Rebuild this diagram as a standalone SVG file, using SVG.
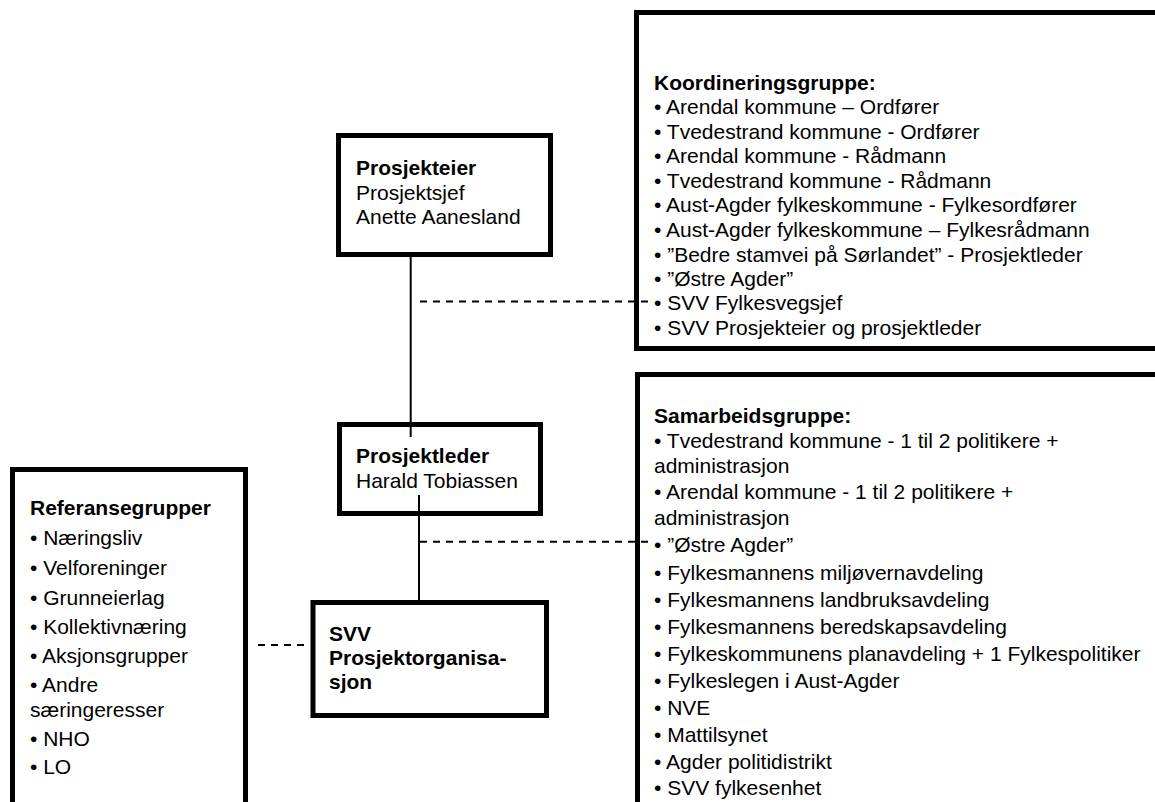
<svg xmlns="http://www.w3.org/2000/svg" width="1155" height="802" viewBox="0 0 1155 802">
<style>
.box{fill:none;stroke:#000;stroke-width:5}
text{font-family:"Liberation Sans",Arial,sans-serif;font-size:21px;fill:#000}
.b{font-weight:bold}
.solid{stroke:#000;stroke-width:2;fill:none}
.dash{stroke:#000;stroke-width:2;fill:none;stroke-dasharray:7 6}
</style>
<rect width="1155" height="802" fill="#fff"/>
<g id="koordineringsgruppe">
<rect class="box" x="636.5" y="12.5" width="600" height="336"/>
<text x="654" y="90" class="b">Koordineringsgruppe:</text>
<text x="654" y="114.3">• Arendal kommune – Ordfører</text>
<text x="654" y="138.5">• Tvedestrand kommune - Ordfører</text>
<text x="654" y="163.2">• Arendal kommune - Rådmann</text>
<text x="654" y="188">• Tvedestrand kommune - Rådmann</text>
<text x="654" y="212.3">• Aust-Agder fylkeskommune - Fylkesordfører</text>
<text x="654" y="237">• Aust-Agder fylkeskommune – Fylkesrådmann</text>
<text x="654" y="261.7">• ”Bedre stamvei på Sørlandet” - Prosjektleder</text>
<text x="654" y="286">• ”Østre Agder”</text>
<text x="654" y="310.3">• SVV Fylkesvegsjef</text>
<text x="654" y="334.5">• SVV Prosjekteier og prosjektleder</text>
</g>
<g id="samarbeidsgruppe">
<rect class="box" x="637.5" y="374.5" width="600" height="500"/>
<text x="654" y="423" class="b">Samarbeidsgruppe:</text>
<text x="654" y="448.3">• Tvedestrand kommune - 1 til 2 politikere +</text>
<text x="654" y="473.3">administrasjon</text>
<text x="654" y="499.3">• Arendal kommune - 1 til 2 politikere +</text>
<text x="654" y="525">administrasjon</text>
<text x="654" y="552">• ”Østre Agder”</text>
<text x="654" y="580">• Fylkesmannens miljøvernavdeling</text>
<text x="654" y="607">• Fylkesmannens landbruksavdeling</text>
<text x="654" y="634">• Fylkesmannens beredskapsavdeling</text>
<text x="654" y="661">• Fylkeskommunens planavdeling + 1 Fylkespolitiker</text>
<text x="654" y="688">• Fylkeslegen i Aust-Agder</text>
<text x="654" y="715">• NVE</text>
<text x="654" y="742">• Mattilsynet</text>
<text x="654" y="768.5">• Agder politidistrikt</text>
<text x="654" y="795">• SVV fylkesenhet</text>
</g>
<g id="prosjekteier">
<rect class="box" x="338.5" y="135.5" width="212" height="119"/>
<text x="356" y="175" class="b">Prosjekteier</text>
<text x="356" y="200">Prosjektsjef</text>
<text x="356" y="224.3">Anette Aanesland</text>
</g>
<g id="prosjektleder">
<rect class="box" x="339.5" y="424.5" width="201" height="89"/>
<text x="356" y="463.3" class="b">Prosjektleder</text>
<text x="356" y="488.3">Harald Tobiassen</text>
</g>
<g id="svv">
<rect class="box" x="313" y="602.5" width="233.5" height="113"/>
<text x="329" y="640.7" class="b">SVV</text>
<text x="329" y="665" class="b">Prosjektorganisa-</text>
<text x="329" y="688.5" class="b">sjon</text>
</g>
<g id="referansegrupper">
<rect class="box" x="12.5" y="469.5" width="233" height="400"/>
<text x="30" y="515" class="b">Referansegrupper</text>
<text x="30" y="545">• Næringsliv</text>
<text x="30" y="575">• Velforeninger</text>
<text x="30" y="604.5">• Grunneierlag</text>
<text x="30" y="634">• Kollektivnæring</text>
<text x="30" y="662.5">• Aksjonsgrupper</text>
<text x="30" y="692">• Andre</text>
<text x="30" y="717">særingeresser</text>
<text x="30" y="745.5">• NHO</text>
<text x="30" y="774">• LO</text>
</g>
<g id="connectors">
<line class="solid" x1="410.7" y1="257" x2="410.7" y2="437"/>
<line class="solid" x1="419" y1="495" x2="419" y2="600"/>
<line class="dash" x1="420" y1="301.5" x2="651" y2="301.5"/>
<line class="dash" x1="420" y1="541.7" x2="649" y2="541.7"/>
<line class="dash" x1="258" y1="645" x2="310" y2="645"/>
</g>
</svg>
